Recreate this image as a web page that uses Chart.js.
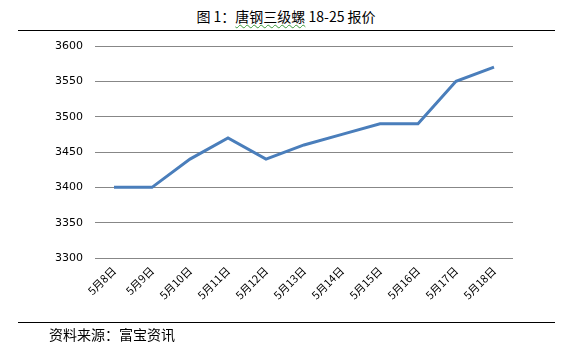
<!DOCTYPE html>
<html>
<head>
<meta charset="utf-8">
<script src="https://cdn.jsdelivr.net/npm/chart.js@4"></script>
<style>
  body { margin: 0; background: #fff; }
  #wrap { position: relative; width: 572px; height: 346px; overflow: hidden; }
  #chart { position: absolute; left: 0; top: 0; }
  .title { position: absolute; left: 0; width: 572px; top: 7px; text-align: center;
           font: 14px "Noto Sans CJK SC", sans-serif; color: #000; line-height: 18px; }
  .wavy { text-decoration: underline wavy #3a9a3a; text-decoration-thickness: 1px; text-underline-offset: 2px; }
  .rule { position: absolute; left: 18px; width: 537px; height: 1px; background: #000; }
  .source { position: absolute; left: 49px; top: 325px; font: 14px "Noto Sans CJK SC", sans-serif;
            color: #000; line-height: 18px; }
</style>
</head>
<body>
<div id="wrap">
  <div class="title">图 1：<span class="wavy">唐钢三级螺</span> 18-25 报价</div>
  <div class="rule" style="top:30px"></div>
  <canvas id="chart" width="572" height="346"></canvas>
  <div class="rule" style="top:322px"></div>
  <div class="source">资料来源：富宝资讯</div>
</div>
<script>
const dias = ['5月8日', '5月9日', '5月10日', '5月11日', '5月12日', '5月13日',
              '5月14日', '5月15日', '5月16日', '5月17日', '5月18日'];
const precios = [3400, 3400, 3440, 3470, 3440, 3460, 3475, 3490, 3490, 3550, 3570];
const ejeMin = 3300;
const ejeMax = 3600;
const ejePaso = 50;

const ctx = document.getElementById('chart').getContext('2d');
const grafico = new Chart(ctx, {
    type: 'line',
    data: {
        labels: dias,
        datasets: [{
            data: precios,
            borderColor: '#4a7ebb',
            borderWidth: 3,
            pointRadius: 0,
            tension: 0,
            fill: false
        }]
    },
    options: {
        responsive: false,
        animation: false,
        layout: { padding: { top: 46, right: 59, bottom: 28, left: 0 } },
        plugins: {
            legend: { display: false },
            title: { display: false },
            tooltip: { enabled: false }
        },
        scales: {
            x: {
                offset: true,
                grid: { display: false, drawTicks: false },
                border: { display: false },
                ticks: {
                    minRotation: 45,
                    maxRotation: 45,
                    autoSkip: false,
                    padding: 6,
                    color: '#000',
                    font: { family: '"Noto Sans CJK SC", sans-serif', size: 11 }
                },
                afterFit: scale => { scale.height = 60; }
            },
            y: {
                min: ejeMin,
                max: ejeMax,
                ticks: {
                    stepSize: ejePaso,
                    padding: 12,
                    color: '#000',
                    font: { family: '"DejaVu Sans", sans-serif', size: 11 },
                    callback: valor => String(valor)
                },
                grid: { color: '#878787', lineWidth: 1, drawTicks: false },
                border: { display: false },
                afterFit: scale => { scale.width = 95; }
            }
        }
    }
});
</script>
</body>
</html>
